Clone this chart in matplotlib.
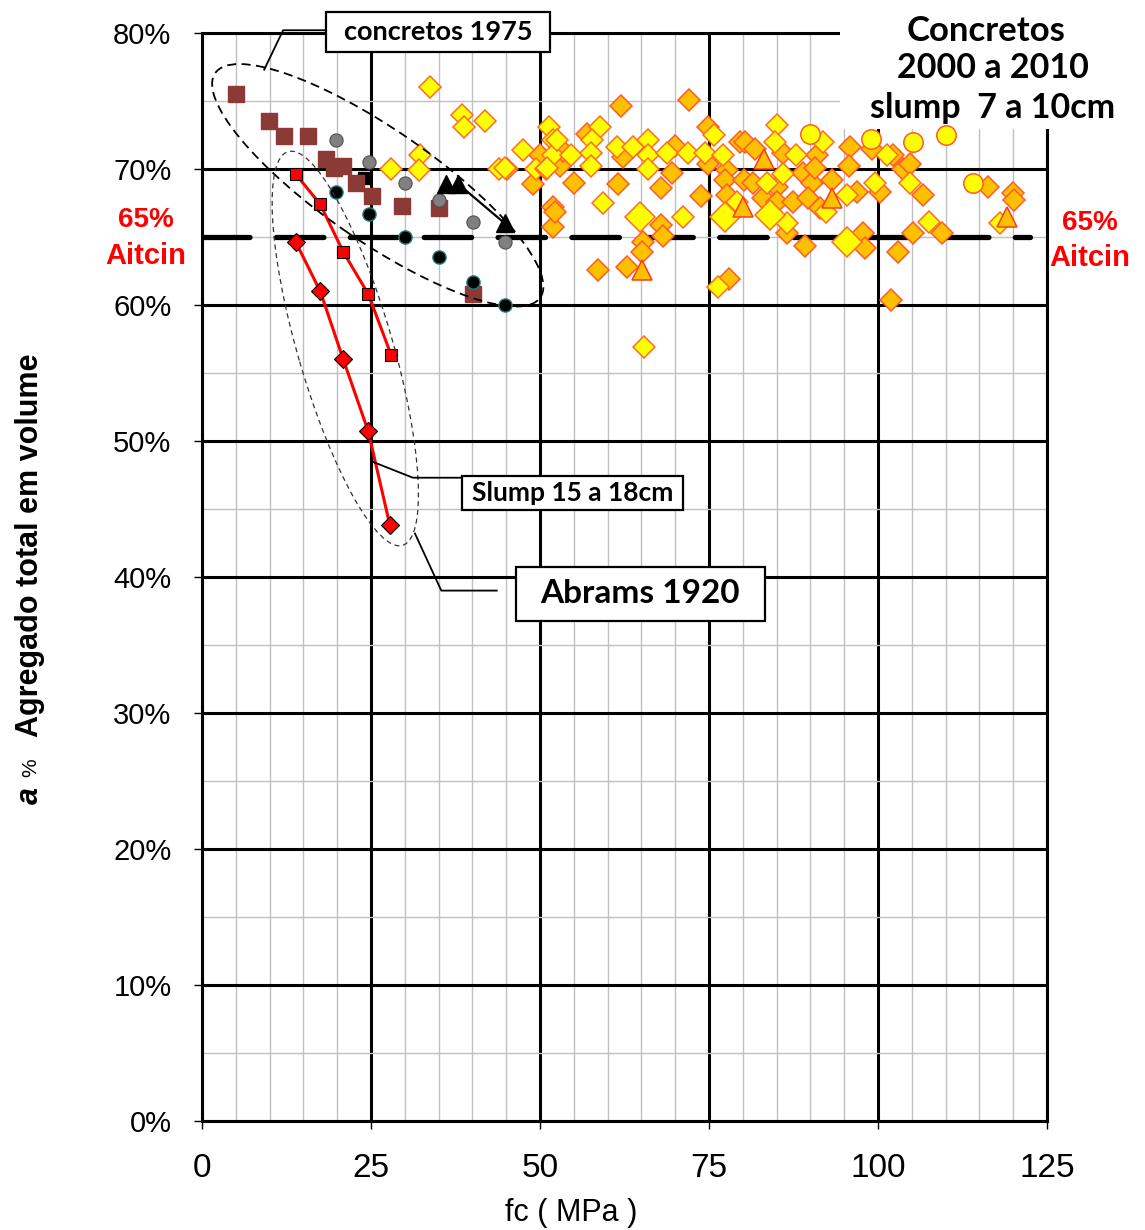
import matplotlib.pyplot as plt
import numpy as np
from matplotlib.patches import Ellipse, Rectangle
from matplotlib.transforms import ScaledTranslation
from matplotlib.ticker import MultipleLocator, FuncFormatter

plt.rcParams['font.family'] = ['Liberation Sans', 'DejaVu Sans']

# Abrams 1920 (red diamonds) and slump 15-18cm (red squares)
abrams_fc = [13.9, 17.5, 20.9, 24.6, 27.8]
abrams_a = [64.6, 61.0, 56.0, 50.7, 43.8]
slump_fc = [13.9, 17.5, 20.9, 24.6, 28.0]
slump_a = [69.6, 67.4, 63.9, 60.8, 56.3]

# concretos 1975
brown_fc = [5.0, 9.9, 12.1, 15.7, 18.3, 19.5, 20.9, 22.8, 25.1, 29.6, 35.1, 40.1]
brown_a = [75.5, 73.5, 72.4, 72.4, 70.7, 70.1, 70.2, 69.0, 68.0, 67.3, 67.1, 60.8]
grey_fc = [19.8, 24.7, 30.0, 35.1, 40.1, 44.8]
grey_a = [72.1, 70.5, 69.0, 67.7, 66.1, 64.6]
blackc_fc = [19.8, 24.7, 30.0, 35.1, 40.1, 44.8]
blackc_a = [68.3, 66.7, 65.0, 63.5, 61.7, 60.0]
tri_fc = [36.1, 37.9, 44.8]
tri_a = [68.9, 68.9, 66.0]
blacks_fc = [24.0]
blacks_a = [69.3]

# concretos 2000 a 2010
yd_fc = [33.7, 38.5, 38.8, 41.9, 32.2, 28.0, 32.1, 43.9, 44.8,
         51.3, 51.9, 47.5, 51.9, 49.4, 50.9, 51.0,
         58.9, 57.7, 54.6, 52.5, 57.5, 57.5, 61.4, 63.8, 66.0, 66.0, 68.8, 71.9, 66.0,
         74.4, 75.7, 77.1, 59.3, 71.2, 76.3, 65.4, 79.1,
         85.1, 91.9, 84.8, 87.9, 101.3, 83.6, 85.9, 95.4, 99.6, 104.7, 92.3, 86.5,
         107.5, 118.0]
yd_a = [76.0, 74.0, 73.1, 73.5, 71.0, 70.0, 69.9, 70.0, 70.1,
        73.1, 72.1, 71.4, 71.0, 70.0, 70.0, 70.1,
        73.1, 72.1, 71.0, 72.1, 71.2, 70.2, 71.6, 71.6, 72.1, 71.0, 71.2, 71.2, 70.0,
        71.2, 72.5, 71.0, 67.5, 66.5, 61.3, 56.9, 67.6,
        73.2, 72.0, 72.0, 71.0, 71.0, 69.0, 69.6, 68.1, 69.0, 69.0, 66.8, 66.0,
        66.1, 66.0]
ydl_fc = [64.8, 77.4, 84.0, 95.4]
ydl_a = [66.5, 66.5, 66.6, 64.6]
od_fc = [45.1, 50.0, 49.0, 51.9, 51.9, 52.2, 53.0, 62.0, 72.0, 62.3, 70.0, 69.5,
         74.9, 74.9, 55.0, 61.5, 67.9, 73.8, 67.9, 68.2, 65.2, 65.1, 58.6, 62.9,
         77.9, 77.7, 77.4, 77.7, 79.6, 80.3, 81.8, 91.0, 85.9, 95.9, 99.1, 102.2,
         80.2, 81.5, 85.1, 88.9, 90.2, 90.7, 93.2, 95.7, 96.9, 100.3, 103.7, 104.7,
         106.7, 83.0, 85.1, 87.4, 89.6, 91.4, 86.5, 89.2, 97.8, 98.1, 105.2, 103.0,
         101.9, 116.3, 120.0, 120.1, 109.5, 56.9, 53.4]
od_a = [70.0, 71.0, 68.9, 67.2, 65.7, 66.8, 70.2, 74.6, 75.1, 70.9, 71.7, 69.7,
        73.1, 70.4, 69.0, 68.9, 68.6, 68.0, 65.9, 65.1, 64.6, 63.9, 62.6, 62.8,
        61.9, 69.9, 69.2, 68.1, 72.0, 72.0, 71.5, 71.0, 71.2, 71.6, 71.5, 71.0,
        69.2, 69.0, 68.7, 69.7, 69.0, 70.1, 69.2, 70.2, 68.3, 68.3, 70.0, 70.4,
        68.1, 67.9, 67.6, 67.6, 67.9, 67.1, 65.3, 64.3, 65.3, 64.2, 65.3, 63.9,
        60.4, 68.7, 68.2, 67.7, 65.3, 72.6, 71.3]
yc_fc = [90.0, 98.9, 105.2, 110.1, 114.1]
yc_a = [72.6, 72.2, 72.0, 72.5, 69.0]
ot_fc = [65.1, 80.1, 83.1, 93.2, 119.1]
ot_a = [62.6, 67.2, 70.7, 67.9, 66.5]

aitcin = 65

fig = plt.figure(figsize=(11.45, 12.3), dpi=100)
ax = fig.add_axes([0.1764, 0.0886, 0.738, 0.8846])
ax.set_xlim(0, 125)
ax.set_ylim(0, 80)
ax.xaxis.set_major_locator(MultipleLocator(25))
ax.xaxis.set_minor_locator(MultipleLocator(5))
ax.yaxis.set_major_locator(MultipleLocator(10))
ax.yaxis.set_minor_locator(MultipleLocator(5))
ax.yaxis.set_major_formatter(FuncFormatter(lambda v, p: f'{v:.0f}%'))
ax.set_axisbelow(True)
ax.grid(which='minor', color='#c0c0c0', lw=1.0)
ax.grid(which='major', color='black', lw=2.2)
ax.tick_params(which='major', direction='out', length=6, width=1)
ax.tick_params(which='minor', length=0)
ax.tick_params(axis='y', labelsize=21, pad=16)
ax.tick_params(axis='x', labelsize=24, pad=17)
for s in ax.spines.values():
    s.set_linewidth(2.2)

# Aitcin 65% dashed line
ax.plot([0, 122.5], [aitcin, aitcin], color='black', lw=3.8,
        dashes=(9, 5), dash_capstyle='round', zorder=2)

# red series
ax.plot(slump_fc, slump_a, color='red', lw=2.2, marker='s', ms=8.5,
        mfc='red', mec='black', mew=0.8, zorder=5)
ax.plot(abrams_fc, abrams_a, color='red', lw=2.2, marker='D', ms=9.5,
        mfc='red', mec='black', mew=0.8, zorder=5)

# 1975
ax.plot(brown_fc, brown_a, ls='none', marker='s', ms=11, mfc='#8B3A36', mec='#8B3A36', zorder=4)
ax.plot(grey_fc, grey_a, ls='none', marker='o', ms=9.5, mfc='#808080', mec='#505050', mew=0.8, zorder=4)
ax.plot(blackc_fc, blackc_a, ls='none', marker='o', ms=9.5, mfc='black', mec='#1f8080', mew=1, zorder=4)
ax.plot(blacks_fc, blacks_a, ls='none', marker='s', ms=9, mfc='black', mec='black', zorder=3.9)
ax.plot(tri_fc[1:], tri_a[1:], color='black', lw=1.6, zorder=4)
ax.plot(tri_fc, tri_a, ls='none', marker='^', ms=13, mfc='black', mec='black', zorder=4)

# 2000-2010
ax.plot(od_fc, od_a, ls='none', marker='D', ms=11.5, mfc='#FFC000', mec='#FF5A2A', mew=1.1, zorder=4)
ax.plot(yd_fc, yd_a, ls='none', marker='D', ms=11.5, mfc='#FFFF00', mec='#FF6A2A', mew=1.1, zorder=4)
ax.plot(ydl_fc, ydl_a, ls='none', marker='D', ms=15, mfc='#FFFF00', mec='#FF6A2A', mew=1.1, zorder=4)
ax.plot(yc_fc, yc_a, ls='none', marker='o', ms=14, mfc='#FFFF00', mec='#FF5A2A', mew=1.1, zorder=4)
ax.plot(ot_fc, ot_a, ls='none', marker='^', ms=14, mfc='#FFC000', mec='#FF3A1A', mew=1.1, zorder=4)

# dashed ellipses
t1 = fig.dpi_scale_trans + ScaledTranslation(26.0, 68.8, ax.transData)
ax.add_patch(Ellipse((0, 0), 3.95, 1.12, angle=-34.6, transform=t1, fill=False,
                     ec='black', lw=1.3, ls=(0, (5, 3)), clip_on=False, zorder=6))
t2 = fig.dpi_scale_trans + ScaledTranslation(21.2, 56.8, ax.transData)
ax.add_patch(Ellipse((0, 0), 4.1, 0.95, angle=-73.8, transform=t2, fill=False,
                     ec='#333333', lw=0.9, ls=(0, (4, 3)), clip_on=False, zorder=6))

# annotation boxes + leaders
ann = ['Lato', 'DejaVu Sans']
ax.plot([9.2, 12.0, 18.3], [77.3, 80.2, 80.2], color='black', lw=1.3, clip_on=False, zorder=6)
ax.add_patch(Rectangle((18.3, 78.6), 33.2, 2.95, fc='white', ec='black', lw=1.6, clip_on=False, zorder=7))
ax.text(34.9, 80.1, 'concretos 1975', ha='center', va='center', fontsize=19.5,
        fontweight='bold', family=ann, zorder=8, clip_on=False)

ax.plot([25.1, 31.2, 38.5], [48.5, 47.3, 47.3], color='black', lw=1.3, zorder=6)
ax.add_patch(Rectangle((38.5, 44.9), 32.7, 2.5, fc='white', ec='black', lw=1.6, zorder=7))
ax.text(54.85, 46.15, 'Slump 15 a 18cm', ha='center', va='center', fontsize=19,
        fontweight='bold', family=ann, zorder=8)

ax.plot([31.5, 35.4, 43.6], [43.2, 39.0, 39.0], color='black', lw=1.3, zorder=6)
ax.add_patch(Rectangle((46.4, 36.8), 36.9, 3.9, fc='white', ec='black', lw=1.6, zorder=7))
ax.text(64.85, 38.75, 'Abrams 1920', ha='center', va='center', fontsize=24,
        fontweight='bold', family=ann, zorder=8)

# white panel behind the top-right title
ax.add_patch(Rectangle((0.755, 0.912), 0.4, 0.2, transform=ax.transAxes, fc='white',
                       ec='none', clip_on=False, zorder=3))
W, H = 1145, 1230
fig.text(986 / W, 1 - 31 / H, 'Concretos', ha='center', va='center', fontsize=25,
         fontweight='bold', family=ann)
fig.text(993 / W, 1 - 68 / H, '2000 a 2010', ha='center', va='center', fontsize=24.5,
         fontweight='bold', family=ann)
fig.text(993 / W, 1 - 108 / H, 'slump  7 a 10cm', ha='center', va='center', fontsize=24.5,
         fontweight='bold', family=ann)

# Aitcin labels
for x, y1, y2 in [(146, 220, 256), (1090, 223, 258)]:
    fig.text(x / W, 1 - y1 / H, '65%', ha='center', va='center', fontsize=20,
             fontweight='bold', color='red')
    fig.text(x / W, 1 - y2 / H, 'Aitcin', ha='center', va='center', fontsize=21,
             fontweight='bold', color='red')

# axis labels
fig.text(30 / W, 1 - 795 / H, 'a', rotation=90, ha='center', va='center', fontsize=22,
         fontweight='bold', style='italic')
fig.text(31 / W, 1 - 768 / H, '%', rotation=90, ha='center', va='center', fontsize=15)
fig.text(30 / W, 1 - 545 / H, 'Agregado total em volume', rotation=90, ha='center',
         va='center', fontsize=22, fontweight='bold')
fig.text(571 / W, 1 - 1213 / H, 'fc ( MPa )', ha='center', va='center', fontsize=22)

fig.savefig('out.png', dpi=100)
